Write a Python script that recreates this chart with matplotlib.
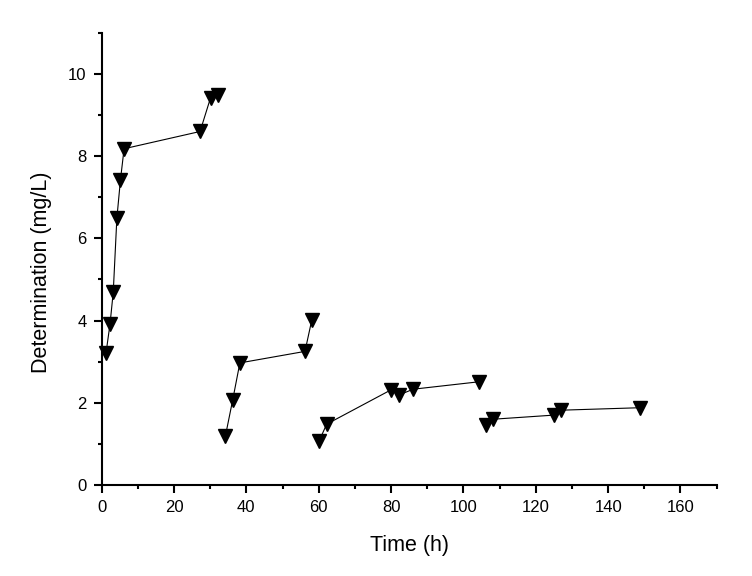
import matplotlib
matplotlib.use("Agg")
import matplotlib.pyplot as plt
from matplotlib.ticker import MultipleLocator

plt.rcParams['font.family'] = ['Liberation Sans', 'DejaVu Sans']

# four sampling runs, each drawn as its own connected series
time_1 = [1.2, 2.3, 3.2, 4.2, 5.2, 6.2, 27.2, 30.1, 32.1]
conc_1 = [3.21, 3.91, 4.69, 6.49, 7.43, 8.18, 8.60, 9.42, 9.48]

time_2 = [34.2, 36.2, 38.2, 56.2, 58.1]
conc_2 = [1.19, 2.06, 2.97, 3.25, 4.02]

time_3 = [60.1, 62.2, 80.1, 82.2, 86.1, 104.2]
conc_3 = [1.07, 1.48, 2.32, 2.19, 2.33, 2.51]

time_4 = [106.2, 108.2, 125.0, 127.1, 148.9]
conc_4 = [1.47, 1.60, 1.70, 1.82, 1.88]

x_ticks = [0, 20, 40, 60, 80, 100, 120, 140, 160]
y_ticks = [0, 2, 4, 6, 8, 10]

fig = plt.figure(figsize=(7.52, 5.76), dpi=100)
ax = fig.add_axes([0.1352, 0.158, 0.953 - 0.1352, 0.943 - 0.158])

for t, c in [(time_1, conc_1), (time_2, conc_2), (time_3, conc_3), (time_4, conc_4)]:
    ax.plot(t, c, color='black', lw=0.8, marker='v', ms=10,
            mfc='black', mec='black', clip_on=False)

ax.set_xlim(0, 170)
ax.set_ylim(0, 11)
ax.set_xticks(x_ticks)
ax.set_yticks(y_ticks)
ax.xaxis.set_minor_locator(MultipleLocator(10))
ax.yaxis.set_minor_locator(MultipleLocator(1))

for side in ['top', 'right']:
    ax.spines[side].set_visible(False)
for side in ['left', 'bottom']:
    ax.spines[side].set_linewidth(1.5)

ax.tick_params(which='major', direction='out', length=6, width=1.5,
               labelsize=12, pad=5, colors='black')
ax.tick_params(which='minor', direction='out', length=3.2, width=1.5)

ax.set_xlabel('Time (h)', fontsize=15.5, labelpad=14)
ax.set_ylabel('Determination (mg/L)', fontsize=15.5)
ax.yaxis.set_label_coords(-0.08, 0.47)

fig.savefig('out.png', dpi=100)
